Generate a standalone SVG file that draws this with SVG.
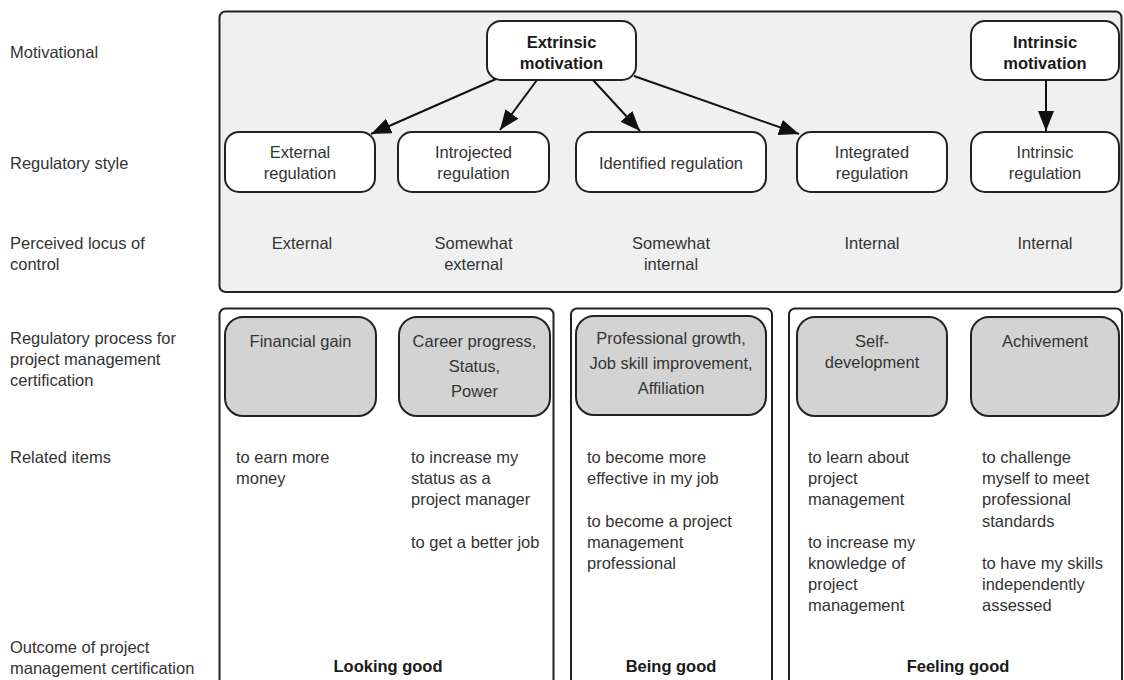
<svg xmlns="http://www.w3.org/2000/svg" width="1124" height="680" viewBox="0 0 1124 680">
  <defs>
    <style>
      .t { font-family: "Liberation Sans", Arial, sans-serif; font-size: 16.5px; fill: #333; }
      .c { text-anchor: middle; }
      .b { font-weight: bold; fill: #1a1a1a; }
      .panel { fill: #f0f0f0; stroke: #222; stroke-width: 2; }
      .col { fill: #fff; stroke: #222; stroke-width: 2; }
      .node { fill: #fff; stroke: #222; stroke-width: 2; }
      .gray { fill: #d3d3d3; stroke: #222; stroke-width: 2; }
      .arrow { stroke: #111; stroke-width: 2; fill: none; marker-end: url(#ah); }
    </style>
    <marker id="ah" markerUnits="userSpaceOnUse" markerWidth="20" markerHeight="16" refX="20" refY="8" orient="auto">
      <path d="M0,0 L20,8 L0,16 z" fill="#111"/>
    </marker>
  </defs>

  <rect width="1124" height="680" fill="#fff"/>

  <g id="row-labels">
    <text class="t" x="10" y="58">Motivational</text>
    <text class="t" x="10" y="169">Regulatory style</text>
    <text class="t" x="10" y="249">Perceived locus of</text>
    <text class="t" x="10" y="270">control</text>
    <text class="t" x="10" y="344">Regulatory process for</text>
    <text class="t" x="10" y="365">project management</text>
    <text class="t" x="10" y="386">certification</text>
    <text class="t" x="10" y="463">Related items</text>
    <text class="t" x="10" y="653">Outcome of project</text>
    <text class="t" x="10" y="674">management certification</text>
  </g>

  <g id="top-panel">
    <rect class="panel" x="219.5" y="11.5" width="902" height="280.5" rx="6"/>
  </g>

  <g id="panel-looking">
    <rect class="col" x="219.5" y="308.5" width="334" height="380" rx="6"/>
    <text class="t b c" x="388" y="672">Looking good</text>
  </g>
  <g id="panel-being">
    <rect class="col" x="571" y="308.5" width="201" height="380" rx="6"/>
    <text class="t b c" x="671" y="672">Being good</text>
  </g>
  <g id="panel-feeling">
    <rect class="col" x="789" y="308.5" width="333" height="380" rx="6"/>
    <text class="t b c" x="958" y="672">Feeling good</text>
  </g>

  <g id="extrinsic-motivation">
    <rect class="node" x="487" y="21" width="149" height="59" rx="14"/>
    <text class="t b c" x="561.5" y="48">Extrinsic</text>
    <text class="t b c" x="561.5" y="69">motivation</text>
  </g>
  <g id="intrinsic-motivation">
    <rect class="node" x="971" y="21" width="148" height="59" rx="14"/>
    <text class="t b c" x="1045" y="48">Intrinsic</text>
    <text class="t b c" x="1045" y="69">motivation</text>
  </g>

  <g id="external-regulation">
    <rect class="node" x="225" y="132" width="150" height="60" rx="14"/>
    <text class="t c" x="300" y="158">External</text>
    <text class="t c" x="300" y="179">regulation</text>
  </g>
  <g id="introjected-regulation">
    <rect class="node" x="398" y="132" width="151" height="60" rx="14"/>
    <text class="t c" x="473.5" y="158">Introjected</text>
    <text class="t c" x="473.5" y="179">regulation</text>
  </g>
  <g id="identified-regulation">
    <rect class="node" x="576" y="132" width="190" height="60" rx="14"/>
    <text class="t c" x="671" y="169">Identified regulation</text>
  </g>
  <g id="integrated-regulation">
    <rect class="node" x="797" y="132" width="150" height="60" rx="14"/>
    <text class="t c" x="872" y="158">Integrated</text>
    <text class="t c" x="872" y="179">regulation</text>
  </g>
  <g id="intrinsic-regulation">
    <rect class="node" x="971" y="132" width="148" height="60" rx="14"/>
    <text class="t c" x="1045" y="158">Intrinsic</text>
    <text class="t c" x="1045" y="179">regulation</text>
  </g>

  <g id="locus">
    <text class="t c" x="302" y="249">External</text>
    <text class="t c" x="473.5" y="249">Somewhat</text>
    <text class="t c" x="473.5" y="270">external</text>
    <text class="t c" x="671" y="249">Somewhat</text>
    <text class="t c" x="671" y="270">internal</text>
    <text class="t c" x="872" y="249">Internal</text>
    <text class="t c" x="1045" y="249">Internal</text>
  </g>

  <g id="financial-gain">
    <rect class="gray" x="225" y="317" width="151" height="99" rx="18"/>
    <text class="t c" x="300.5" y="347">Financial gain</text>
  </g>
  <g id="career-progress">
    <rect class="gray" x="399" y="317" width="151" height="99" rx="18"/>
    <text class="t c" x="474.5" y="347">Career progress,</text>
    <text class="t c" x="474.5" y="372">Status,</text>
    <text class="t c" x="474.5" y="397">Power</text>
  </g>
  <g id="professional-growth">
    <rect class="gray" x="576" y="316" width="190" height="99" rx="18"/>
    <text class="t c" x="671" y="344">Professional growth,</text>
    <text class="t c" x="671" y="369">Job skill improvement,</text>
    <text class="t c" x="671" y="394">Affiliation</text>
  </g>
  <g id="self-development">
    <rect class="gray" x="797" y="317" width="150" height="99" rx="18"/>
    <text class="t c" x="872" y="347">Self-</text>
    <text class="t c" x="872" y="368">development</text>
  </g>
  <g id="achivement">
    <rect class="gray" x="971" y="317" width="148" height="99" rx="18"/>
    <text class="t c" x="1045" y="347">Achivement</text>
  </g>

  <g id="related-items">
    <text class="t" x="236" y="463">to earn more</text>
    <text class="t" x="236" y="484">money</text>

    <text class="t" x="411" y="463">to increase my</text>
    <text class="t" x="411" y="484">status as a</text>
    <text class="t" x="411" y="505">project manager</text>
    <text class="t" x="411" y="548">to get a better job</text>

    <text class="t" x="587" y="463">to become more</text>
    <text class="t" x="587" y="484">effective in my job</text>
    <text class="t" x="587" y="527">to become a project</text>
    <text class="t" x="587" y="548">management</text>
    <text class="t" x="587" y="569">professional</text>

    <text class="t" x="808" y="463">to learn about</text>
    <text class="t" x="808" y="484">project</text>
    <text class="t" x="808" y="505">management</text>
    <text class="t" x="808" y="548">to increase my</text>
    <text class="t" x="808" y="569">knowledge of</text>
    <text class="t" x="808" y="590">project</text>
    <text class="t" x="808" y="611">management</text>

    <text class="t" x="982" y="463">to challenge</text>
    <text class="t" x="982" y="484">myself to meet</text>
    <text class="t" x="982" y="505">professional</text>
    <text class="t" x="982" y="527">standards</text>
    <text class="t" x="982" y="569">to have my skills</text>
    <text class="t" x="982" y="590">independently</text>
    <text class="t" x="982" y="611">assessed</text>
  </g>

  <g id="connectors">
    <line class="arrow" x1="496" y1="79" x2="371" y2="134"/>
    <line class="arrow" x1="537" y1="80" x2="500" y2="130"/>
    <line class="arrow" x1="593" y1="80" x2="640" y2="131"/>
    <line class="arrow" x1="634" y1="76" x2="799" y2="134"/>
    <line class="arrow" x1="1046" y1="80" x2="1046" y2="131"/>
  </g>
</svg>
